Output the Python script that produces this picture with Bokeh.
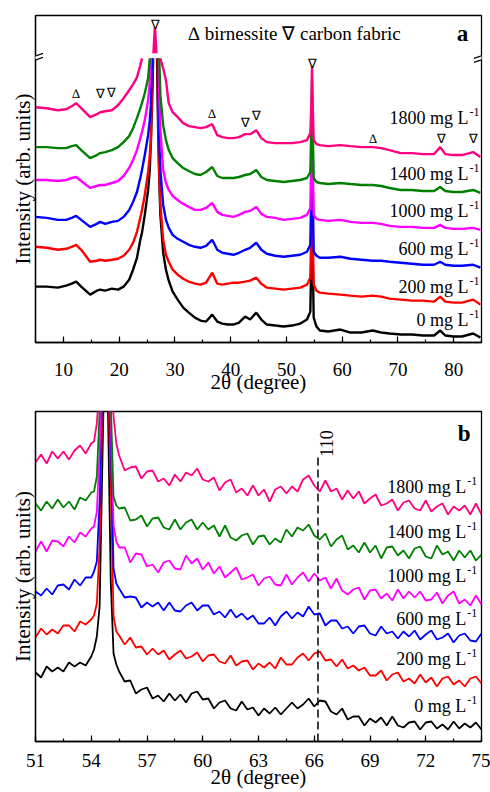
import math
from bokeh.plotting import figure
from bokeh.models import (Range1d, SingleIntervalTicker, FixedTicker, Label,
                          PolyAnnotation, Arrow)
from bokeh.layouts import column
from bokeh.embed import file_html
from bokeh.resources import INLINE

nan = float("nan")
FONT = "Liberation Serif"

concentrations = ["0", "200", "600", "1000", "1400", "1800"]
colors = ["#000000", "#FF0000", "#0000FF", "#FF00FF", "#008000", "#FF0080"]

# ---------------- panel a : full pattern (arb. units)
top_x = [5, 7, 9, 10.5, 11.5, 12.3, 13.2, 14.8, 16, 16.6,
         17.5, 18.7, 19.8, 20.8, 21.8, 22.5, 23.2, 23.8, 24.1, 24.6,
         25.2, 25.5, 25.7, 25.9, 26.0, 26.1, 26.45, 26.8, 26.9, 27.0,
         27.1, 27.2, 27.4, 27.9, 28.4, 28.9, 29.6, 30.5, 31.5, 32.5,
         33.6, 34.6, 35.6, 36.7, 37.6, 38.5, 39.5, 40.5, 41.5, 42.6,
         43.5, 44.6, 45.5, 46.5, 48, 49.5, 51, 52.5, 53.7, 54.3,
         54.5, 54.6, 54.7, 54.9, 55.4, 56, 57.5, 59.7, 61.5, 63.5,
         65.5, 67, 68.5, 70.5, 72.5, 74.5, 76.5, 77.6, 78.5, 80,
         81.5, 83.5, 84.8]

top_0 = [56, 56, 55, 57, 59, 61, 56, 48, 52, 53,
         52, 54, 53, 56, 63, 73, 85, 103, 110, 128,
         153, 173, 203, 238, 258, 285, nan, 285, 243, 213,
         188, 163, 128, 90, 73, 62, 51, 43, 35, 30,
         25, 22, 21, 28, 21, 19, 18, 18, 20, 26,
         23, 30, 23, 18, 17, 16, 17, 19, 23, 31,
         93, 193, 93, 25, 16, 12, 11, 13, 10, 10,
         12, 10, 9, 8, 8, 7, 7, 12, 7, 6,
         6, 9, 5]
top_200 = [96, 95, 93, 94, 96, 98, 93, 81, 82, 83,
           82, 83, 84, 87, 93, 100, 111, 125, 133, 148,
           171, 188, 203, 253, 285, nan, nan, nan, 285, 233,
           193, 168, 138, 103, 88, 81, 73, 68, 64, 61,
           59, 58, 60, 70, 59, 58, 59, 60, 60, 61,
           62, 65, 59, 55, 54, 53, 54, 55, 58, 65,
           123, 213, 123, 58, 52, 50, 49, 48, 47, 46,
           47, 46, 44, 43, 42, 42, 41, 46, 41, 40,
           40, 43, 38]
top_600 = [126, 125, 123, 123, 125, 127, 123, 116, 119, 121,
           119, 121, 122, 126, 133, 141, 151, 165, 173, 188,
           208, 223, 238, 285, nan, nan, nan, nan, nan, 285,
           233, 203, 173, 138, 123, 115, 108, 104, 101, 98,
           96, 95, 97, 103, 93, 90, 89, 88, 90, 93,
           95, 100, 93, 89, 87, 86, 87, 88, 91, 98,
           163, 233, 163, 91, 87, 85, 85, 86, 84, 83,
           82, 82, 81, 80, 79, 78, 78, 81, 78, 77,
           77, 78, 75]
top_1000 = [163, 163, 162, 163, 165, 166, 162, 155, 157, 158,
            158, 160, 162, 167, 175, 183, 193, 205, 211, 223,
            243, 261, 285, nan, nan, nan, nan, nan, nan, nan,
            285, 248, 213, 173, 160, 153, 147, 143, 139, 136,
            133, 133, 135, 140, 131, 128, 127, 126, 128, 131,
            132, 136, 129, 126, 125, 123, 124, 125, 128, 135,
            193, 248, 193, 128, 124, 123, 122, 123, 121, 120,
            120, 119, 117, 116, 116, 115, 115, 118, 115, 114,
            114, 115, 113]
top_1400 = [196, 196, 195, 195, 197, 198, 193, 185, 188, 190,
            191, 193, 196, 201, 207, 215, 225, 235, 240, 250,
            265, 285, nan, nan, nan, nan, nan, nan, nan, nan,
            nan, 285, 248, 218, 203, 193, 185, 180, 175, 172,
            169, 168, 171, 176, 167, 165, 165, 165, 166, 168,
            169, 173, 166, 163, 162, 161, 162, 163, 165, 171,
            223, 263, 223, 165, 161, 160, 159, 160, 159, 158,
            158, 157, 155, 153, 153, 152, 152, 156, 152, 151,
            151, 153, 150]
top_1800 = [236, 235, 233, 234, 237, 240, 235, 226, 229, 231,
            232, 233, 238, 245, 253, 259, 266, 278, 285, nan,
            nan, nan, nan, nan, nan, nan, nan, nan, nan, nan,
            nan, nan, 285, 275, 263, 240, 231, 226, 220, 217,
            216, 215, 216, 219, 208, 206, 205, 205, 206, 209,
            209, 213, 205, 201, 200, 200, 200, 201, 203, 210,
            243, 277, 243, 203, 199, 198, 197, 198, 197, 196,
            196, 195, 193, 190, 190, 189, 189, 196, 189, 188,
            188, 191, 186]
top_series = [top_0, top_200, top_600, top_1000, top_1400, top_1800]

# tip of the 26.5 deg peak, drawn above the axis break
tip_x = [26.17, 26.42, 26.67]
tip_y = [290, 316, 290]
break_level = 285.5

birnessite_x = [12.3, 36.7, 65.6]
birnessite_y = [250, 230, 205]
fabric_x = [16.6, 18.7, 26.45, 42.6, 44.6, 54.6, 77.9, 83.5]
fabric_y = [250, 251, 319, 221, 228, 280, 205, 205]

top_label_x = 82.65
top_label_y = [23, 56, 94, 132, 169, 225]

# ---------------- panel b : zoom 51-75 deg
bot_x = [51.0, 51.3, 51.6, 51.9, 52.2, 52.5, 52.8, 53.1, 53.4, 53.7, 54.0,
         54.15, 54.3, 54.45, 54.6, 54.75, 54.9, 55.05, 55.2, 55.35, 55.5,
         55.8, 56.1, 56.4, 56.7, 57.0, 57.3, 57.6, 57.9, 58.2, 58.5,
         58.8, 59.1, 59.4, 59.7, 60.0, 60.3, 60.6, 60.9, 61.2, 61.5,
         61.8, 62.1, 62.4, 62.7, 63.0, 63.3, 63.6, 63.9, 64.2, 64.5,
         64.8, 65.1, 65.4, 65.7, 66.0, 66.3, 66.6, 66.9, 67.2, 67.5,
         67.8, 68.1, 68.4, 68.7, 69.0, 69.3, 69.6, 69.9, 70.2, 70.5,
         70.8, 71.1, 71.4, 71.7, 72.0, 72.3, 72.6, 72.9, 73.2, 73.5,
         73.8, 74.1, 74.4, 74.7, 75.0]

bot_0 = [69, 64, 75, 70, 74, 70, 79, 75, 79, 76, 85,
         92, 105, 135, 280, 420, 330, 160, 88, 77, 70,
         60, 61, 48, 52, 54, 43, 46, 40, 48, 41,
         47, 39, 48, 50, 42, 43, 33, 39, 41, 33,
         31, 40, 32, 34, 26, 33, 28, 34, 27, 33,
         39, 33, 37, 43, 35, 41, 40, 30, 27, 33,
         22, 25, 25, 16, 23, 19, 24, 16, 25, 16,
         14, 19, 20, 12, 19, 20, 13, 17, 12, 20,
         13, 18, 14, 19, 12]
bot_200 = [104, 113, 107, 112, 108, 116, 116, 110, 120, 117, 122,
           126, 138, 195, 340, 420, 360, 260, 125, 110, 106,
           97, 104, 94, 95, 87, 93, 87, 91, 82, 87,
           91, 83, 85, 89, 80, 86, 87, 80, 78, 86,
           76, 80, 81, 72, 78, 74, 79, 73, 84, 77,
           77, 84, 88, 81, 88, 90, 81, 82, 75, 82,
           73, 76, 71, 74, 66, 66, 71, 61, 67, 69,
           60, 63, 58, 67, 59, 64, 55, 63, 65, 57,
           61, 55, 63, 65, 58]
bot_600 = [150, 146, 153, 147, 156, 157, 152, 162, 156, 164, 164,
           170, 180, 240, 360, 420, 370, 300, 173, 158, 153,
           144, 145, 144, 134, 139, 135, 139, 131, 139, 131,
           130, 136, 139, 131, 136, 136, 127, 130, 124, 132,
           124, 128, 122, 126, 118, 118, 124, 116, 125, 130,
           123, 129, 125, 135, 127, 128, 116, 121, 121, 113,
           115, 108, 115, 116, 108, 106, 115, 108, 110, 103,
           110, 105, 111, 102, 107, 111, 102, 104, 108, 99,
           106, 108, 101, 100, 108]
bot_1000 = [190, 200, 190, 201, 200, 195, 205, 199, 209, 205, 213,
            215, 230, 290, 380, 420, 380, 320, 216, 200, 194,
            194, 179, 188, 187, 175, 177, 169, 179, 181, 173,
            172, 186, 178, 183, 172, 179, 168, 175, 164, 169,
            174, 162, 164, 167, 156, 163, 165, 157, 156, 167,
            157, 164, 169, 160, 168, 161, 164, 153, 163, 151,
            147, 152, 154, 142, 151, 152, 143, 148, 141, 152,
            143, 150, 144, 150, 141, 142, 149, 138, 146, 150,
            138, 142, 136, 146, 137]
bot_1400 = [238, 231, 240, 233, 242, 234, 240, 232, 244, 241, 249,
            250, 265, 330, 390, 420, 390, 340, 245, 236, 233,
            234, 221, 222, 226, 215, 223, 224, 214, 212, 222,
            212, 219, 222, 212, 219, 212, 216, 205, 216, 204,
            201, 206, 208, 197, 205, 206, 197, 203, 199, 212,
            205, 214, 211, 217, 206, 202, 208, 195, 202, 206,
            192, 196, 189, 199, 189, 196, 183, 194, 195, 186,
            191, 183, 193, 195, 185, 183, 196, 187, 190, 181,
            191, 184, 191, 181, 187]
bot_1800 = [279, 287, 278, 290, 283, 290, 282, 291, 296, 288, 298,
            300, 318, 360, 400, 420, 400, 370, 325, 298, 286,
            271, 274, 275, 263, 270, 271, 260, 263, 256, 267,
            260, 269, 266, 273, 262, 260, 264, 251, 259, 262,
            249, 253, 246, 256, 246, 252, 240, 252, 255, 248,
            255, 250, 262, 266, 256, 250, 261, 250, 253, 242,
            251, 243, 250, 238, 243, 247, 236, 238, 242, 231,
            239, 241, 233, 231, 241, 230, 235, 238, 227, 235,
            231, 236, 227, 238, 227]
bot_series = [bot_0, bot_200, bot_600, bot_1000, bot_1400, bot_1800]

bot_label_x = 74.18
bot_label_y = [36, 83, 123, 166, 210, 255]
peak110_x = 66.2
peak110_top = 285
peak110_label_y = 298

X_TITLE = "2\u03b8 (degree)"
Y_TITLE = "Intensity (arb. units)"


def style(p, interval, tick_standoff, xlabel_standoff):
    p.xgrid.visible = False
    p.ygrid.visible = False
    p.background_fill_color = "white"
    p.border_fill_color = "white"
    p.outline_line_color = "black"
    p.outline_line_width = 1.3
    xa = p.xaxis[0]
    xa.ticker = SingleIntervalTicker(interval=interval, num_minor_ticks=2)
    xa.axis_line_color = "black"
    xa.axis_line_width = 1.3
    xa.major_tick_in = 6
    xa.major_tick_out = 0
    xa.minor_tick_in = 3
    xa.minor_tick_out = 0
    xa.major_tick_line_color = "black"
    xa.minor_tick_line_color = "black"
    xa.major_tick_line_width = 1.2
    xa.minor_tick_line_width = 1.2
    xa.major_label_text_font = FONT
    xa.major_label_text_font_size = "19px"
    xa.major_label_text_color = "black"
    xa.major_label_standoff = tick_standoff
    xa.axis_label = X_TITLE
    xa.axis_label_text_font = FONT
    xa.axis_label_text_font_size = "21px"
    xa.axis_label_text_font_style = "normal"
    xa.axis_label_text_color = "black"
    xa.axis_label_standoff = xlabel_standoff
    ya = p.yaxis[0]
    ya.ticker = FixedTicker(ticks=[], minor_ticks=[])
    ya.axis_line_color = "black"
    ya.axis_line_width = 1.3
    ya.major_tick_out = 0
    ya.major_tick_in = 0
    ya.major_label_standoff = 0
    ya.axis_label = Y_TITLE
    ya.axis_label_text_font = FONT
    ya.axis_label_text_font_size = "21px"
    ya.axis_label_text_font_style = "normal"
    ya.axis_label_text_color = "black"
    ya.axis_label_standoff = 1


def series_labels(p, x, ys):
    for name, y in zip(concentrations, ys):
        p.add_layout(Label(x=x, y=y, text=f"{name} mg L", text_align="right",
                           text_baseline="middle", text_font=FONT,
                           text_font_size="18px", text_color="black"))
        p.add_layout(Label(x=x, y=y, x_offset=1, y_offset=6, text="-1",
                           text_align="left", text_baseline="middle",
                           text_font=FONT, text_font_size="12px",
                           text_color="black"))


# ---------------- figure a
p1 = figure(width=490, height=396, x_range=Range1d(5, 85), y_range=Range1d(0, 328),
            output_backend="svg", toolbar_location=None,
            min_border_left=35, min_border_right=9, min_border_top=15,
            min_border_bottom=53)
style(p1, 10, 20, -9)
for ys, c in zip(top_series, colors):
    p1.line(top_x, ys, color=c, line_width=2.4)
p1.line(tip_x, tip_y, color=colors[-1], line_width=2.6)

for xx, yy in zip(birnessite_x, birnessite_y):
    p1.add_layout(Label(x=xx, y=yy, text="\u2206", text_align="center",
                        text_baseline="middle", text_font=FONT,
                        text_font_size="13px", text_color="black"))
for xx, yy in zip(fabric_x, fabric_y):
    p1.add_layout(Label(x=xx, y=yy, text="\u2207", text_align="center",
                        text_baseline="middle", text_font=FONT,
                        text_font_size="13px", text_color="black"))
p1.add_layout(Label(x=32.4, y=310, text="\u2206 birnessite  \u2207 carbon fabric",
                    text_align="left", text_baseline="middle", text_font=FONT,
                    text_font_size="19px", text_color="black"))
p1.add_layout(Label(x=81.6, y=310, text="a", text_align="center",
                    text_baseline="middle", text_font=FONT, text_font_size="23px",
                    text_font_style="bold", text_color="black"))
series_labels(p1, top_label_x, top_label_y)

# axis-break marks on both spines
for x0 in (p1.x_range.start, p1.x_range.end):
    xa_, xb_ = x0 - 1.35, x0 + 1.35
    p1.add_layout(PolyAnnotation(xs=[xa_, xb_, xb_, xa_],
                                 ys=[break_level - 4.5, break_level + 0.5,
                                     break_level + 4.5, break_level - 0.5],
                                 fill_color="white", fill_alpha=1.0,
                                 line_color=None))
    for dy in (-4.5, -0.5):
        p1.add_layout(Arrow(end=None, x_start=xa_, y_start=break_level + dy,
                            x_end=xb_, y_end=break_level + dy + 5,
                            line_color="black", line_width=1.2))

# ---------------- figure b
p2 = figure(width=490, height=396, x_range=Range1d(51, 75), y_range=Range1d(0, 330),
            output_backend="svg", toolbar_location=None,
            min_border_left=35, min_border_right=9, min_border_top=15,
            min_border_bottom=51)
style(p2, 3, 12, -5)
for ys, c in zip(bot_series, colors):
    p2.line(bot_x, ys, color=c, line_width=1.8)
p2.line([peak110_x, peak110_x], [0, peak110_top], color="black", line_width=1.5,
        line_dash="8 4")
p2.add_layout(Label(x=peak110_x + 0.45, y=peak110_label_y, text="110",
                    angle=math.pi / 2, text_align="center", text_baseline="middle",
                    text_font=FONT, text_font_size="18px", text_color="black"))
p2.add_layout(Label(x=74.07, y=308, text="b", text_align="center",
                    text_baseline="middle", text_font=FONT, text_font_size="23px",
                    text_font_style="bold", text_color="black"))
series_labels(p2, bot_label_x, bot_label_y)

layout = column(p1, p2)
open("out.html", "w").write(file_html(layout, INLINE))
